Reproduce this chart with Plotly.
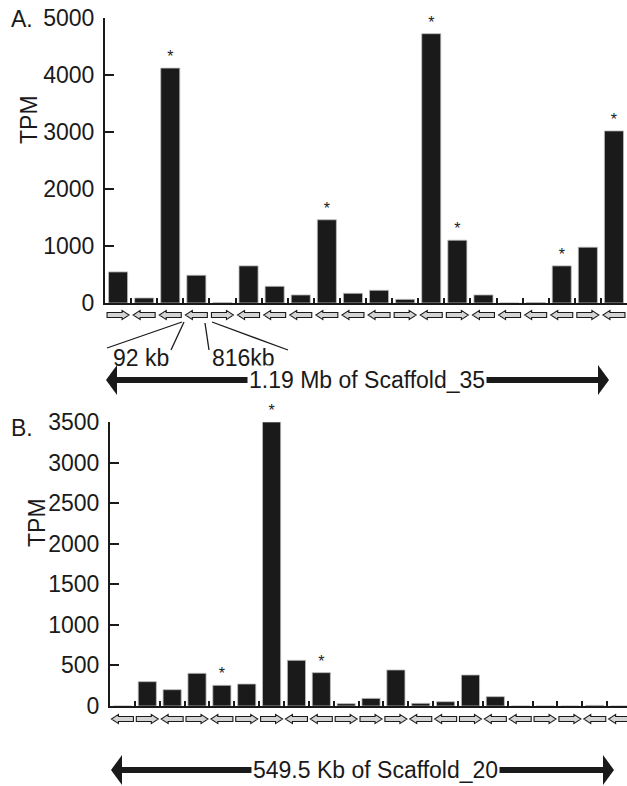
import plotly.graph_objects as go

W, H = 627, 786

# ---------------- data ----------------
a_values = [545, 88, 4121, 487, 5, 651, 293, 141, 1460, 170, 223, 64,
            4725, 1102, 141, 0, 8, 651, 979, 3019]
a_starred = [3, 9, 13, 14, 18, 20]
a_strand = ["+", "-", "-", "-", "+", "-", "-", "-", "-", "-", "-", "+",
            "-", "+", "-", "-", "-", "-", "+", "-"]
a_yticks = [0, 1000, 2000, 3000, 4000, 5000]

b_values = [0, 300, 201, 403, 255, 271, 3500, 563, 411, 29, 94, 444,
            33, 53, 382, 115, 0, 0, 0, 8, 0]
b_starred = [5, 7, 9]
b_strand = ["-", "+", "-", "+", "-", "+", "+", "-", "-", "+", "+", "+",
            "-", "-", "+", "-", "-", "+", "+", "-", "-"]
b_yticks = [0, 500, 1000, 1500, 2000, 2500, 3000, 3500]

a_span_label = "1.19 Mb of Scaffold_35"
b_span_label = "549.5 Kb of Scaffold_20"
gap_labels = ["92 kb", "816kb"]

# ---------------- helpers ----------------
def px(x):
    return x / W

def py(y):
    return 1 - y / H

FONT = "Liberation Sans, Arial, sans-serif"
INK = "#1a1a1a"
FS = 23

a_x = list(range(1, len(a_values) + 1))
b_x = list(range(1, len(b_values) + 1))
a_text = ["*" if i in a_starred else "" for i in a_x]
b_text = ["*" if i in b_starred else "" for i in b_x]

fig = go.Figure()
for xs, ys, txt, xa, ya in [(a_x, a_values, a_text, "x", "y"),
                            (b_x, b_values, b_text, "x2", "y2")]:
    fig.add_trace(go.Bar(
        x=xs, y=ys, text=txt, textposition="outside", constraintext="none",
        textfont=dict(size=16, color=INK, family=FONT), cliponaxis=False,
        marker=dict(color=INK, line=dict(color="#bdbdbd", width=0.8)),
        width=0.73, xaxis=xa, yaxis=ya, showlegend=False, hoverinfo="x+y"))

# axis geometry (pixels)
A_left, A_top, A_bot, A_unit = 105, 18, 303, 26.1
B_left, B_top, B_bot, B_unit = 110, 422, 706, 24.86

axis_common = dict(showline=True, linecolor=INK, linewidth=2, ticks="inside",
                   tickcolor=INK, tickwidth=1.5, showgrid=False, zeroline=False,
                   fixedrange=True, automargin=False)

fig.update_layout(
    width=W, height=H, margin=dict(l=0, r=0, t=0, b=0, pad=0),
    paper_bgcolor="white", plot_bgcolor="white",
    font=dict(family=FONT, size=FS, color=INK),
    bargap=0.27,
    xaxis=dict(domain=[px(A_left), 1], range=[0.5, 0.5 + (W - A_left) / A_unit],
               anchor="y", tickvals=[i + 0.5 for i in a_x[:-1]],
               showticklabels=False, ticklen=5, **axis_common),
    yaxis=dict(domain=[py(A_bot), py(A_top)], range=[0, 5000], anchor="x",
               tickvals=a_yticks, ticklen=9, ticklabelstandoff=4,
               tickfont=dict(size=FS), **axis_common),
    xaxis2=dict(domain=[px(B_left), 1], range=[0.5, 0.5 + (W - B_left) / B_unit],
                anchor="y2", tickvals=[i + 0.5 for i in b_x[:-1]],
                showticklabels=False, ticklen=5, **axis_common),
    yaxis2=dict(domain=[py(B_bot), py(B_top)], range=[0, 3500], anchor="x2",
                tickvals=b_yticks, ticklen=9, ticklabelstandoff=4,
                tickfont=dict(size=FS), **axis_common),
)

shapes = []

def gene_arrow(c, strand, yc_px, unit, xref):
    half = 11 / unit
    head = 7 / unit
    s, hh = 2.5, 4.6
    y0 = py(yc_px)
    ys = lambda d: py(yc_px + d)
    if strand == "+":
        tail, tip, neck = c - half, c + half, c + half - head
    else:
        tail, tip, neck = c + half, c - half, c - half + head
    path = (f"M {tail},{ys(-s)} L {neck},{ys(-s)} L {neck},{ys(-hh)} "
            f"L {tip},{y0} L {neck},{ys(hh)} L {neck},{ys(s)} L {tail},{ys(s)} Z")
    return dict(type="path", path=path, xref=xref, yref="paper",
                fillcolor="#d4d4d4", line=dict(color=INK, width=1.1))

for c, st in zip(a_x, a_strand):
    shapes.append(gene_arrow(c, st, 315, A_unit, "x"))
for c, st in zip(b_x, b_strand):
    shapes.append(gene_arrow(c, st, 719, B_unit, "x2"))

for (x0, y0, x1, y1) in [(182, 322, 107, 348), (184, 322, 171, 350),
                         (205, 323, 209, 350), (212, 322, 288, 350)]:
    shapes.append(dict(type="line", xref="paper", yref="paper",
                       x0=px(x0), y0=py(y0), x1=px(x1), y1=py(y1),
                       line=dict(color=INK, width=1.3)))

def span_arrow(x_left, x_right, yc):
    out = [dict(type="line", xref="paper", yref="paper",
                x0=px(x_left + 8), x1=px(x_right - 8), y0=py(yc), y1=py(yc),
                line=dict(color=INK, width=6))]
    hw, hh = 11, 15
    out.append(dict(type="path", xref="paper", yref="paper",
                    path=f"M {px(x_left)},{py(yc)} L {px(x_left + hw)},{py(yc - hh)} "
                         f"L {px(x_left + hw)},{py(yc + hh)} Z",
                    fillcolor=INK, line=dict(color=INK, width=0)))
    out.append(dict(type="path", xref="paper", yref="paper",
                    path=f"M {px(x_right)},{py(yc)} L {px(x_right - hw)},{py(yc - hh)} "
                         f"L {px(x_right - hw)},{py(yc + hh)} Z",
                    fillcolor=INK, line=dict(color=INK, width=0)))
    return out

shapes += span_arrow(106, 609, 380)
shapes += span_arrow(111, 614, 770)
fig.update_layout(shapes=shapes)

ann = []
def label(text, x, y, **kw):
    d = dict(text=text, x=px(x), y=py(y), xref="paper", yref="paper",
             showarrow=False, xanchor="center", yanchor="middle",
             font=dict(family=FONT, size=FS, color=INK))
    d.update(kw)
    ann.append(d)

label("A.", 22, 19)
label("B.", 22, 428)
label("TPM", 29, 120, textangle=-90)
label("TPM", 37, 523, textangle=-90)
label(gap_labels[0], 141, 358)
label(gap_labels[1], 243, 358)
label(a_span_label, 367, 380, bgcolor="white", borderpad=1)
label(b_span_label, 376, 770, bgcolor="white", borderpad=1)
fig.update_layout(annotations=ann)

fig.write_html(
    "out.html",
    config={"displayModeBar": False},
    post_script="document.body.style.margin='0';document.body.style.overflow='hidden';",
)
